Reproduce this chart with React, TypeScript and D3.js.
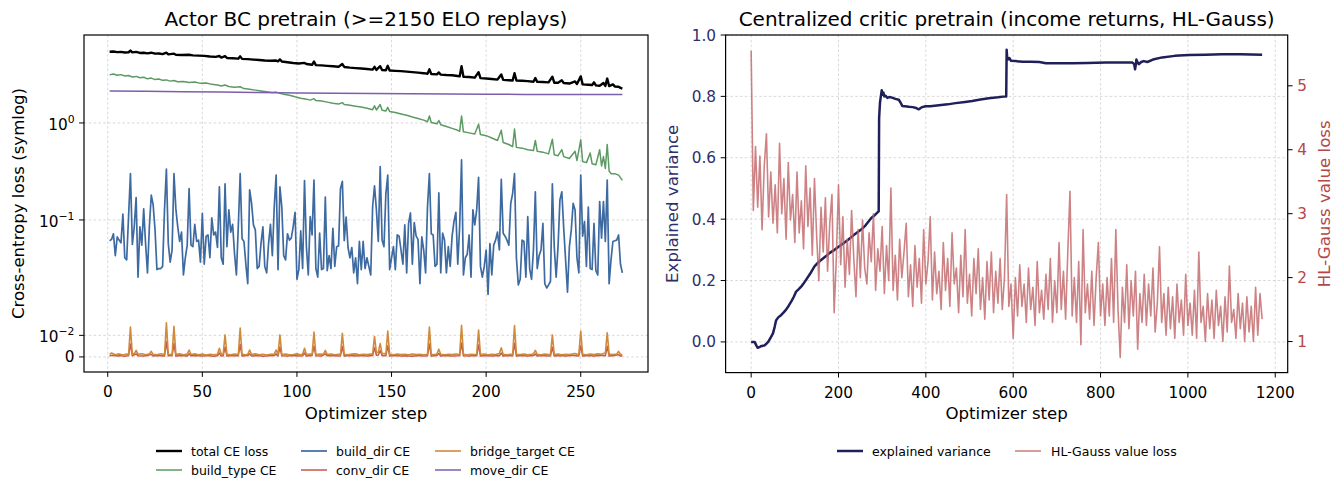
import React from 'react';
import * as d3 from 'd3';

const W = 1340;
const H = 481;
const FONT = 'DejaVu Sans, Verdana, sans-serif';

// ---------------- left panel: actor BC pretrain (symlog y) ----------------
// build_dir CE, one value per optimizer step 1..272
const buildDirCE = [
  0.061, 0.063, 0.072, 0.047, 0.067, 0.062, 0.058, 0.115, 0.046, 0.045,
  0.108, 0.30, 0.056, 0.085, 0.17, 0.037, 0.085, 0.055, 0.13, 0.057,
  0.039, 0.085, 0.18, 0.143, 0.079, 0.0405, 0.041, 0.041, 0.042, 0.127,
  0.335, 0.057, 0.044, 0.0496, 0.30, 0.13, 0.085, 0.06, 0.075, 0.038,
  0.046, 0.055, 0.21, 0.055, 0.053, 0.09, 0.06, 0.062, 0.044, 0.117,
  0.043, 0.068, 0.07, 0.046, 0.105, 0.07, 0.075, 0.052, 0.22, 0.046,
  0.043, 0.235, 0.053, 0.127, 0.075, 0.09, 0.048, 0.038, 0.085, 0.30,
  0.064, 0.06, 0.043, 0.034, 0.204, 0.15, 0.089, 0.079, 0.041, 0.042,
  0.057, 0.085, 0.042, 0.039, 0.057, 0.09, 0.047, 0.136, 0.29, 0.0405,
  0.22, 0.136, 0.047, 0.045, 0.072, 0.062, 0.065, 0.085, 0.12, 0.036,
  0.0405, 0.077, 0.041, 0.255, 0.053, 0.038, 0.108, 0.07, 0.258, 0.041,
  0.037, 0.073, 0.0405, 0.041, 0.172, 0.04, 0.047, 0.041, 0.082, 0.042,
  0.053, 0.054, 0.21, 0.25, 0.061, 0.107, 0.052, 0.046, 0.052, 0.039,
  0.046, 0.034, 0.06, 0.0405, 0.06, 0.041, 0.046, 0.042, 0.038, 0.136,
  0.225, 0.127, 0.06, 0.355, 0.062, 0.053, 0.187, 0.29, 0.0405, 0.046,
  0.053, 0.0405, 0.07, 0.068, 0.0496, 0.043, 0.089, 0.039, 0.092, 0.118,
  0.043, 0.094, 0.068, 0.063, 0.034, 0.067, 0.0496, 0.039, 0.136, 0.30,
  0.072, 0.07, 0.042, 0.043, 0.19, 0.039, 0.073, 0.062, 0.039, 0.053,
  0.042, 0.068, 0.096, 0.12, 0.043, 0.085, 0.416, 0.038, 0.046, 0.0476,
  0.07, 0.037, 0.127, 0.089, 0.127, 0.275, 0.042, 0.037, 0.042, 0.0496,
  0.029, 0.057, 0.038, 0.055, 0.062, 0.075, 0.0496, 0.262, 0.073, 0.068,
  0.062, 0.055, 0.148, 0.187, 0.30, 0.046, 0.0334, 0.036, 0.062, 0.06,
  0.037, 0.108, 0.041, 0.036, 0.0496, 0.195, 0.041, 0.047, 0.0496, 0.092,
  0.034, 0.032, 0.0334, 0.035, 0.235, 0.053, 0.037, 0.053, 0.161, 0.195,
  0.082, 0.045, 0.030, 0.053, 0.079, 0.148, 0.127, 0.046, 0.039, 0.29,
  0.068, 0.096, 0.042, 0.136, 0.041, 0.0405, 0.092, 0.04, 0.038, 0.155,
  0.065, 0.155, 0.06, 0.258, 0.034, 0.045, 0.06, 0.061, 0.062, 0.07,
  0.043, 0.039,
];

// [step, value]
const totalCE: [number, number][] = [
  [1, 5.42], [3, 5.45], [5, 5.38], [7, 5.40], [9, 5.33], [11, 5.36], [12, 5.58], [13, 5.34],
  [15, 5.40], [17, 5.27], [19, 5.30], [21, 5.22], [23, 5.30], [25, 5.18], [27, 5.20], [29, 5.12],
  [31, 5.30], [32, 5.10], [35, 5.18], [36, 5.05], [39, 5.02], [43, 5.05], [45, 4.98], [48, 4.95],
  [51, 4.92], [54, 4.85], [57, 4.80], [59, 4.90], [60, 4.72], [62, 4.88], [63, 4.68], [66, 4.65],
  [69, 4.60], [70, 4.86], [71, 4.58], [74, 4.55], [77, 4.50], [80, 4.46], [83, 4.40], [86, 4.38],
  [89, 4.40], [90, 4.32], [91, 4.52], [92, 4.30], [95, 4.22], [98, 4.15], [101, 4.10], [104, 4.16],
  [105, 4.05], [108, 3.98], [109, 4.30], [110, 3.95], [113, 3.92], [116, 3.88], [119, 3.84], [122, 3.80],
  [124, 4.05], [125, 3.78], [128, 3.72], [131, 3.68], [134, 3.64], [137, 3.60], [140, 3.55], [141, 3.79],
  [142, 3.52], [144, 3.85], [145, 3.52], [147, 3.50], [148, 3.88], [149, 3.47], [152, 3.44], [155, 3.42],
  [158, 3.38], [161, 3.34], [164, 3.30], [167, 3.26], [169, 3.22], [170, 3.57], [171, 3.20], [174, 3.17],
  [175, 3.32], [176, 3.15], [179, 3.12], [182, 3.10], [185, 3.05], [186, 3.02], [187, 3.85], [188, 3.00],
  [191, 2.98], [194, 2.93], [196, 3.34], [197, 2.90], [200, 2.87], [203, 2.84], [206, 2.80], [208, 3.16],
  [209, 2.78], [212, 2.76], [214, 2.74], [215, 3.26], [216, 2.74], [219, 2.72], [222, 2.70], [225, 2.66],
  [226, 2.90], [227, 2.65], [230, 2.64], [233, 2.62], [235, 3.00], [236, 2.60], [238, 2.60], [240, 2.75],
  [241, 2.58], [244, 2.55], [247, 2.68], [248, 2.52], [250, 3.02], [251, 2.50], [254, 2.48], [256, 2.46],
  [257, 2.62], [258, 2.44], [260, 2.42], [262, 2.58], [263, 2.41], [264, 2.87], [265, 2.40], [267, 2.50],
  [268, 2.38], [270, 2.36], [271, 2.30], [272, 2.26],
];

const buildTypeCE: [number, number][] = [
  [1, 3.13], [3, 3.20], [5, 3.10], [7, 3.15], [9, 3.05], [11, 3.08], [13, 2.98], [15, 3.02],
  [17, 2.92], [19, 2.96], [21, 2.85], [23, 2.90], [25, 2.80], [27, 2.84], [29, 2.75], [31, 2.78],
  [33, 2.70], [35, 2.74], [37, 2.66], [40, 2.68], [43, 2.62], [46, 2.64], [49, 2.56], [52, 2.58],
  [55, 2.50], [58, 2.46], [60, 2.40], [62, 2.46], [64, 2.38], [67, 2.34], [70, 2.36], [72, 2.26],
  [75, 2.22], [78, 2.18], [81, 2.14], [84, 2.10], [87, 2.06], [89, 2.08], [91, 2.02], [93, 1.98],
  [96, 1.93], [99, 1.86], [102, 1.80], [105, 1.76], [107, 1.72], [109, 1.78], [110, 1.70], [113, 1.68],
  [116, 1.64], [119, 1.60], [122, 1.57], [124, 1.62], [125, 1.55], [128, 1.52], [131, 1.49], [134, 1.46],
  [137, 1.42], [140, 1.37], [141, 1.50], [142, 1.36], [144, 1.55], [145, 1.35], [147, 1.33], [148, 1.45],
  [149, 1.31], [152, 1.28], [155, 1.24], [158, 1.20], [161, 1.15], [164, 1.11], [167, 1.07], [169, 1.03],
  [170, 1.18], [171, 1.01], [174, 0.98], [175, 1.06], [176, 0.96], [179, 0.92], [182, 0.88], [185, 0.84],
  [186, 0.82], [187, 1.18], [188, 0.81], [191, 0.79], [194, 0.77], [196, 0.97], [197, 0.76], [200, 0.74],
  [203, 0.70], [206, 0.66], [208, 0.84], [209, 0.63], [212, 0.60], [214, 0.57], [215, 0.865], [216, 0.56],
  [219, 0.55], [222, 0.53], [225, 0.52], [226, 0.66], [227, 0.51], [230, 0.50], [233, 0.48], [235, 0.68],
  [236, 0.47], [238, 0.46], [240, 0.53], [241, 0.45], [244, 0.43], [247, 0.51], [248, 0.41], [250, 0.67],
  [251, 0.40], [253, 0.39], [255, 0.49], [256, 0.38], [258, 0.37], [260, 0.53], [261, 0.36], [262, 0.45],
  [263, 0.34], [264, 0.60], [265, 0.32], [266, 0.30], [268, 0.30], [270, 0.29], [272, 0.256],
];

const moveDirCE: [number, number][] = [
  [1, 2.14], [20, 2.12], [40, 2.10], [60, 2.08], [80, 2.06], [100, 2.04], [120, 2.03], [140, 2.01],
  [160, 2.00], [180, 1.99], [200, 1.98], [220, 1.97], [240, 1.97], [260, 1.96], [272, 1.96],
];

const bridgeTargetCE: [number, number][] = [
  [1, 0.0012], [2, 0.0018], [4, 0.0010], [6, 0.0014], [8, 0.0009], [10, 0.0013], [11, 0.0010], [12, 0.0139],
  [13, 0.0011], [14, 0.0016], [15, 0.0030], [16, 0.0012], [18, 0.0015], [20, 0.0010], [22, 0.0014], [23, 0.0026],
  [24, 0.0012], [26, 0.0010], [28, 0.0015], [30, 0.0011], [31, 0.0158], [32, 0.0012], [34, 0.0010], [35, 0.0142],
  [36, 0.0012], [38, 0.0014], [40, 0.0010], [42, 0.0013], [43, 0.0032], [44, 0.0011], [46, 0.0014], [48, 0.0010],
  [50, 0.0013], [52, 0.0009], [54, 0.0012], [56, 0.0010], [58, 0.0012], [59, 0.0040], [60, 0.0011], [61, 0.0013],
  [62, 0.0102], [63, 0.0012], [65, 0.0010], [67, 0.0013], [69, 0.0011], [70, 0.0134], [71, 0.0012], [73, 0.0010],
  [74, 0.0012], [75, 0.0032], [76, 0.0011], [78, 0.0014], [80, 0.0010], [82, 0.0012], [84, 0.0009], [86, 0.0012],
  [88, 0.0013], [89, 0.0032], [90, 0.0012], [91, 0.0102], [92, 0.0011], [94, 0.0013], [96, 0.0010], [98, 0.0011],
  [100, 0.0014], [102, 0.0010], [103, 0.0012], [104, 0.0040], [105, 0.0011], [107, 0.0013], [108, 0.0010], [109, 0.0115],
  [110, 0.0011], [112, 0.0013], [114, 0.0012], [115, 0.0030], [116, 0.0011], [118, 0.0013], [120, 0.0010], [122, 0.0012],
  [123, 0.0011], [124, 0.0110], [125, 0.0012], [127, 0.0010], [129, 0.0013], [131, 0.0014], [133, 0.0010], [135, 0.0012],
  [137, 0.0011], [139, 0.0013], [140, 0.0014], [141, 0.0095], [142, 0.0020], [143, 0.0022], [144, 0.0062], [145, 0.0014],
  [146, 0.0016], [147, 0.0012], [148, 0.0120], [149, 0.0012], [151, 0.0010], [153, 0.0013], [155, 0.0011], [157, 0.0012],
  [159, 0.0010], [161, 0.0013], [163, 0.0011], [165, 0.0012], [167, 0.0010], [169, 0.0012], [170, 0.0139], [171, 0.0012],
  [173, 0.0011], [174, 0.0013], [175, 0.0036], [176, 0.0012], [178, 0.0010], [180, 0.0012], [182, 0.0011], [184, 0.0013],
  [186, 0.0011], [187, 0.0147], [188, 0.0012], [190, 0.0010], [192, 0.0012], [194, 0.0011], [195, 0.0012], [196, 0.0125],
  [197, 0.0011], [199, 0.0013], [201, 0.0010], [203, 0.0012], [205, 0.0011], [206, 0.0014], [207, 0.0016], [208, 0.0042],
  [209, 0.0012], [211, 0.0010], [213, 0.0012], [214, 0.0011], [215, 0.0145], [216, 0.0012], [218, 0.0011], [220, 0.0013],
  [222, 0.0010], [224, 0.0012], [225, 0.0014], [226, 0.0030], [227, 0.0012], [229, 0.0010], [231, 0.0013], [233, 0.0011],
  [234, 0.0012], [235, 0.0102], [236, 0.0011], [238, 0.0013], [240, 0.0010], [242, 0.0012], [244, 0.0011], [246, 0.0014],
  [247, 0.0016], [248, 0.0012], [249, 0.0013], [250, 0.0120], [251, 0.0012], [253, 0.0010], [255, 0.0013], [257, 0.0011],
  [259, 0.0014], [261, 0.0012], [262, 0.0016], [263, 0.0018], [264, 0.0112], [265, 0.0013], [267, 0.0011], [269, 0.0013],
  [270, 0.0026], [271, 0.0012], [272, 0.0011],
];

const convDirCE: [number, number][] = [
  [1, 0.0005], [3, 0.0008], [5, 0.0004], [7, 0.0006], [9, 0.0003], [11, 0.0006], [12, 0.0060], [13, 0.0005],
  [15, 0.0014], [16, 0.0005], [19, 0.0004], [21, 0.0007], [23, 0.0012], [24, 0.0004], [27, 0.0006], [30, 0.0004],
  [31, 0.0070], [32, 0.0005], [34, 0.0006], [35, 0.0062], [36, 0.0004], [39, 0.0006], [42, 0.0004], [43, 0.0014],
  [44, 0.0005], [47, 0.0007], [50, 0.0004], [53, 0.0006], [56, 0.0003], [58, 0.0005], [59, 0.0018], [60, 0.0004],
  [61, 0.0005], [62, 0.0045], [63, 0.0004], [66, 0.0006], [69, 0.0005], [70, 0.0058], [71, 0.0004], [74, 0.0006],
  [75, 0.0014], [76, 0.0004], [79, 0.0006], [82, 0.0003], [85, 0.0005], [88, 0.0006], [89, 0.0014], [90, 0.0004],
  [91, 0.0046], [92, 0.0005], [95, 0.0004], [98, 0.0006], [101, 0.0004], [103, 0.0005], [104, 0.0018], [105, 0.0004],
  [108, 0.0006], [109, 0.0050], [110, 0.0005], [113, 0.0004], [115, 0.0014], [116, 0.0005], [119, 0.0006], [122, 0.0004],
  [123, 0.0005], [124, 0.0048], [125, 0.0004], [128, 0.0006], [131, 0.0004], [134, 0.0006], [137, 0.0004], [140, 0.0006],
  [141, 0.0042], [142, 0.0008], [143, 0.0009], [144, 0.0030], [145, 0.0006], [147, 0.0005], [148, 0.0052], [149, 0.0004],
  [152, 0.0006], [155, 0.0004], [158, 0.0005], [161, 0.0003], [164, 0.0006], [167, 0.0004], [169, 0.0005], [170, 0.0060],
  [171, 0.0004], [174, 0.0006], [175, 0.0016], [176, 0.0004], [179, 0.0006], [182, 0.0004], [185, 0.0005], [186, 0.0006],
  [187, 0.0064], [188, 0.0005], [191, 0.0004], [194, 0.0006], [195, 0.0005], [196, 0.0055], [197, 0.0004], [200, 0.0006],
  [203, 0.0004], [206, 0.0006], [207, 0.0005], [208, 0.0018], [209, 0.0004], [212, 0.0006], [214, 0.0005], [215, 0.0063],
  [216, 0.0004], [219, 0.0006], [222, 0.0004], [225, 0.0006], [226, 0.0013], [227, 0.0004], [230, 0.0006], [233, 0.0004],
  [234, 0.0005], [235, 0.0045], [236, 0.0004], [239, 0.0006], [242, 0.0004], [245, 0.0006], [247, 0.0007], [248, 0.0004],
  [249, 0.0005], [250, 0.0052], [251, 0.0004], [254, 0.0006], [257, 0.0004], [260, 0.0006], [262, 0.0007], [263, 0.0005],
  [264, 0.0049], [265, 0.0004], [268, 0.0006], [270, 0.0011], [271, 0.0004], [272, 0.0005],
];

const leftXTicks = [0, 50, 100, 150, 200, 250];
const leftYTicks = [0, 0.01, 0.1, 1];

// ---------------- right panel: centralized critic ----------------
const LOSS_EVERY = 5; // one value per 5 optimizer steps, steps 0..1170
const hlGaussLoss = [
  5.55, 3.05, 4.05, 3.1, 3.9, 2.75, 3.75, 4.25, 2.95, 3.65, 2.85,
  3.45, 2.7, 4.1, 3.0, 3.55, 2.6, 3.8, 2.9, 3.3, 2.55,
  3.65, 2.7, 3.2, 2.45, 3.75, 2.8, 3.4, 2.35, 3.55, 2.65,
  1.95, 3.1, 2.4, 3.25, 2.1, 2.85, 3.3, 1.45, 2.3, 3.45,
  2.2, 2.95, 1.85, 2.6, 2.05, 3.05, 2.3, 1.7, 2.75, 2.0,
  2.9, 2.15, 1.9, 2.7, 2.25, 3.0, 1.8, 2.45, 2.1, 2.8,
  1.75, 2.5, 1.95, 3.4, 1.8, 2.35, 1.65, 2.6, 2.0, 2.4,
  2.85, 1.7, 2.2, 1.55, 2.5, 1.85, 2.3, 1.6, 2.75, 1.9,
  2.25, 2.95, 1.65, 2.4, 1.75, 2.1, 1.5, 2.55, 1.8, 2.3,
  1.55, 2.7, 1.9, 2.15, 1.45, 2.35, 1.7, 2.75, 1.6, 2.05,
  1.4, 2.3, 1.75, 2.45, 1.5, 2.0, 1.35, 2.25, 1.65, 2.4,
  1.45, 2.1, 1.6, 2.3, 1.5, 2.0, 3.3, 1.55, 1.9, 1.05,
  2.0, 1.4, 2.2, 1.55, 1.9, 1.3, 2.15, 1.5, 1.85, 1.25,
  2.25, 1.45, 1.8, 1.35, 2.05, 1.5, 2.3, 1.3, 1.95, 1.45,
  2.55, 1.5, 2.1, 1.35, 2.4, 3.35, 1.4, 2.0, 1.3, 2.25,
  0.95, 2.75, 1.45, 1.9, 1.35, 2.1, 1.25, 2.0, 2.55, 1.4,
  1.9, 1.25, 2.0, 1.4, 2.3, 1.3, 2.75, 1.5, 0.75, 1.85,
  1.3, 2.2, 1.2, 1.95, 1.4, 2.1, 0.88, 1.75, 1.3, 2.05,
  1.25, 1.9, 1.4, 2.15, 1.15, 1.6, 2.48, 1.3, 1.75, 1.1,
  1.85, 1.2, 1.7, 1.05, 1.9, 1.3, 1.65, 1.1, 2.05, 1.25,
  1.6, 1.1, 1.8, 1.05, 2.4, 1.3, 1.55, 1.0, 1.75, 1.2,
  1.65, 1.05, 1.8, 1.25, 1.55, 1.0, 1.7, 1.15, 2.18, 1.3,
  1.5, 1.05, 1.75, 1.2, 1.6, 1.0, 1.7, 1.15, 1.55, 1.0,
  1.85, 1.1, 1.75, 1.35,
];

// [step, explained variance]
const explainedVar: [number, number][] = [
  [0, 0.0], [8, 0.0], [12, -0.012], [15, -0.019], [20, -0.016], [24, -0.013], [30, -0.012], [35, -0.006],
  [39, 0.0], [45, 0.015], [50, 0.028], [54, 0.05], [57, 0.07], [62, 0.08], [69, 0.088], [75, 0.097],
  [80, 0.105], [86, 0.118], [92, 0.132], [98, 0.148], [103, 0.164], [109, 0.172], [115, 0.181], [120, 0.19],
  [126, 0.203], [135, 0.222], [145, 0.246], [153, 0.258], [161, 0.268], [170, 0.278], [180, 0.29], [191, 0.30],
  [200, 0.31], [210, 0.32], [222, 0.333], [235, 0.348], [252, 0.366], [262, 0.38], [275, 0.404], [283, 0.413],
  [290, 0.423], [292, 0.425], [293, 0.73], [295, 0.78], [297, 0.80], [299, 0.82], [301, 0.805], [303, 0.812],
  [305, 0.80], [308, 0.802], [312, 0.795], [316, 0.798], [323, 0.796], [330, 0.792], [338, 0.789], [342, 0.78],
  [346, 0.769], [352, 0.768], [361, 0.766], [370, 0.765], [378, 0.762], [384, 0.758], [390, 0.764], [399, 0.768],
  [410, 0.768], [430, 0.771], [450, 0.774], [468, 0.778], [490, 0.782], [506, 0.785], [525, 0.79], [544, 0.794],
  [565, 0.797], [582, 0.80], [584, 0.80], [585, 0.952], [586, 0.93], [588, 0.92], [591, 0.925], [595, 0.916],
  [605, 0.915], [622, 0.913], [640, 0.913], [660, 0.912], [675, 0.908], [700, 0.908], [736, 0.908], [770, 0.909],
  [812, 0.91], [850, 0.91], [873, 0.91], [877, 0.905], [879, 0.888], [881, 0.905], [882, 0.92], [885, 0.91],
  [888, 0.905], [893, 0.912], [899, 0.915], [907, 0.912], [920, 0.92], [941, 0.927], [970, 0.932], [1002, 0.935],
  [1040, 0.936], [1078, 0.937], [1120, 0.937], [1170, 0.936],
];

const rightXTicks = [0, 200, 400, 600, 800, 1000, 1200];
const evTicks = [0, 0.2, 0.4, 0.6, 0.8, 1.0];
const lossTicks = [1, 2, 3, 4, 5];

// ---------------- helpers ----------------
const LINTHRESH = 0.05;
const LINSCALE = 1 / (1 - 1 / 10);
function symlog(v: number) {
  const a = Math.abs(v);
  const r = a <= LINTHRESH ? (a / LINTHRESH) * LINSCALE : LINSCALE + Math.log10(a / LINTHRESH);
  return Math.sign(v) * r;
}

const TICK_FS = 15.3;
const LABEL_FS = 16.6;
const TITLE_FS = 20;
const LEGEND_FS = 12.5;
const TICK_LEN = 4.9;
const GRID = { stroke: '#c8c8c8', strokeWidth: 0.7, strokeDasharray: '2.6,2.2' };

const COLORS = {
  total: '#000000',
  buildType: '#5b9a62',
  buildDir: '#3e6aa2',
  convDir: '#c4574a',
  bridge: '#d08a3b',
  moveDir: '#7b5fae',
  ev: '#1f2059',
  loss: '#c06466',
  evText: '#2d2e6a',
  lossText: '#b4474a',
};

function LeftPanel() {
  const L = 84, R = 648, T = 35, B = 372;
  const x = d3.scaleLinear().domain([1 - 0.05 * 271, 272 + 0.05 * 271]).range([L, R]);
  const yT = d3.scaleLinear().domain([symlog(-0.007), symlog(8.07)]).range([B, T]);
  const y = (v: number) => yT(symlog(v));

  const stepLine = d3.line<number>().x((_, i) => x(i + 1)).y((d) => y(d));
  const pairLine = d3.line<[number, number]>().x((d) => x(d[0])).y((d) => y(d[1]));

  const series = [
    { key: 'total', label: 'total CE loss', color: COLORS.total, w: 2.4, d: pairLine(totalCE) },
    { key: 'buildType', label: 'build_type CE', color: COLORS.buildType, w: 1.5, d: pairLine(buildTypeCE) },
    { key: 'buildDir', label: 'build_dir CE', color: COLORS.buildDir, w: 1.7, d: stepLine(buildDirCE) },
    { key: 'convDir', label: 'conv_dir CE', color: COLORS.convDir, w: 1.5, d: pairLine(convDirCE) },
    { key: 'bridge', label: 'bridge_target CE', color: COLORS.bridge, w: 1.6, d: pairLine(bridgeTargetCE) },
    { key: 'moveDir', label: 'move_dir CE', color: COLORS.moveDir, w: 1.5, d: pairLine(moveDirCE) },
  ];

  const fmtY = (v: number) => {
    if (v === 0) return <tspan>0</tspan>;
    const e = Math.round(Math.log10(v));
    return (
      <>
        <tspan>10</tspan>
        <tspan dy={-7} fontSize={10.8}>{e < 0 ? '\u2212' + Math.abs(e) : String(e)}</tspan>
      </>
    );
  };

  const legendCols = [156, 301, 435];
  const legendRows = [451, 470];

  return (
    <g>
      <defs>
        <clipPath id="clipL">
          <rect x={L} y={T} width={R - L} height={B - T} />
        </clipPath>
      </defs>
      {leftXTicks.map((t) => (
        <line key={'gx' + t} x1={x(t)} x2={x(t)} y1={T} y2={B} {...GRID} />
      ))}
      {leftYTicks.map((t) => (
        <line key={'gy' + t} x1={L} x2={R} y1={y(t)} y2={y(t)} {...GRID} />
      ))}
      <g clipPath="url(#clipL)">
        {series.map((s) => (
          <path key={s.key} d={s.d || ''} fill="none" stroke={s.color} strokeWidth={s.w} strokeLinejoin="round" />
        ))}
      </g>
      <rect x={L} y={T} width={R - L} height={B - T} fill="none" stroke="#000" strokeWidth={1.2} />
      {leftXTicks.map((t) => (
        <g key={'tx' + t}>
          <line x1={x(t)} x2={x(t)} y1={B} y2={B + TICK_LEN} stroke="#000" strokeWidth={1} />
          <text x={x(t)} y={B + 25} fontSize={TICK_FS} textAnchor="middle" fill="#000">{t}</text>
        </g>
      ))}
      {leftYTicks.map((t) => (
        <g key={'ty' + t}>
          <line x1={L - TICK_LEN} x2={L} y1={y(t)} y2={y(t)} stroke="#000" strokeWidth={1} />
          <text x={L - 9.5} y={y(t) + (t === 0 ? 5.5 : 7)} fontSize={TICK_FS} textAnchor="end" fill="#000">
            {fmtY(t)}
          </text>
        </g>
      ))}
      <text x={(L + R) / 2} y={419} fontSize={LABEL_FS} textAnchor="middle">Optimizer step</text>
      <text transform={`translate(24,${(T + B) / 2}) rotate(-90)`} fontSize={LABEL_FS} textAnchor="middle">
        Cross-entropy loss (symlog)
      </text>
      <text x={(L + R) / 2} y={26} fontSize={TITLE_FS} textAnchor="middle">Actor BC pretrain (&gt;=2150 ELO replays)</text>
      {series.map((s, i) => {
        const cx = legendCols[Math.floor(i / 2)];
        const cy = legendRows[i % 2];
        return (
          <g key={'lg' + s.key}>
            <line x1={cx} x2={cx + 26} y1={cy} y2={cy} stroke={s.color} strokeWidth={s.w} />
            <text x={cx + 35} y={cy + 4.5} fontSize={LEGEND_FS}>{s.label}</text>
          </g>
        );
      })}
    </g>
  );
}

function RightPanel() {
  const L = 725.6, R = 1287.7, T = 35, B = 372.6;
  const x = d3.scaleLinear().domain([-58.5, 1228.5]).range([L, R]);
  const yEV = d3.scaleLinear().domain([-0.1, 1.0]).range([B, T]);
  const yLoss = d3.scaleLinear().domain([0.514, 5.795]).range([B, T]);

  const lossLine = d3.line<number>().x((_, i) => x(i * LOSS_EVERY)).y((d) => yLoss(d));
  const evLine = d3.line<[number, number]>().x((d) => x(d[0])).y((d) => yEV(d[1]));

  return (
    <g>
      <defs>
        <clipPath id="clipR">
          <rect x={L} y={T} width={R - L} height={B - T} />
        </clipPath>
      </defs>
      {rightXTicks.map((t) => (
        <line key={'gx' + t} x1={x(t)} x2={x(t)} y1={T} y2={B} {...GRID} />
      ))}
      {evTicks.map((t) => (
        <line key={'gy' + t} x1={L} x2={R} y1={yEV(t)} y2={yEV(t)} {...GRID} />
      ))}
      <g clipPath="url(#clipR)">
        <path d={evLine(explainedVar) || ''} fill="none" stroke={COLORS.ev} strokeWidth={2.5} strokeLinejoin="round" />
        <path d={lossLine(hlGaussLoss) || ''} fill="none" stroke={COLORS.loss} strokeWidth={1.6} strokeOpacity={0.8} strokeLinejoin="round" />
      </g>
      <rect x={L} y={T} width={R - L} height={B - T} fill="none" stroke="#000" strokeWidth={1.2} />
      {rightXTicks.map((t) => (
        <g key={'tx' + t}>
          <line x1={x(t)} x2={x(t)} y1={B} y2={B + TICK_LEN} stroke="#000" strokeWidth={1} />
          <text x={x(t)} y={B + 25} fontSize={TICK_FS} textAnchor="middle" fill="#000">{t}</text>
        </g>
      ))}
      {evTicks.map((t) => (
        <g key={'ty' + t}>
          <line x1={L - TICK_LEN} x2={L} y1={yEV(t)} y2={yEV(t)} stroke="#000" strokeWidth={1} />
          <text x={L - 9.5} y={yEV(t) + 5.5} fontSize={TICK_FS} textAnchor="end" fill={COLORS.evText}>{t.toFixed(1)}</text>
        </g>
      ))}
      {lossTicks.map((t) => (
        <g key={'tl' + t}>
          <line x1={R} x2={R + TICK_LEN} y1={yLoss(t)} y2={yLoss(t)} stroke="#000" strokeWidth={1} />
          <text x={R + 9.5} y={yLoss(t) + 5.5} fontSize={TICK_FS} textAnchor="start" fill={COLORS.lossText}>{t}</text>
        </g>
      ))}
      <text x={(L + R) / 2} y={419} fontSize={LABEL_FS} textAnchor="middle">Optimizer step</text>
      <text transform={`translate(678,${(T + B) / 2}) rotate(-90)`} fontSize={LABEL_FS} textAnchor="middle" fill={COLORS.evText}>
        Explained variance
      </text>
      <text transform={`translate(1330,${(T + B) / 2}) rotate(-90)`} fontSize={LABEL_FS} textAnchor="middle" fill={COLORS.lossText}>
        HL-Gauss value loss
      </text>
      <text x={(L + R) / 2} y={26} fontSize={TITLE_FS} textAnchor="middle">
        Centralized critic pretrain (income returns, HL-Gauss)
      </text>
      <line x1={837} x2={863} y1={451} y2={451} stroke={COLORS.ev} strokeWidth={2.5} />
      <text x={872} y={455.5} fontSize={LEGEND_FS}>explained variance</text>
      <line x1={1015} x2={1041} y1={451} y2={451} stroke={COLORS.loss} strokeWidth={1.6} strokeOpacity={0.8} />
      <text x={1051} y={455.5} fontSize={LEGEND_FS}>HL-Gauss value loss</text>
    </g>
  );
}

export default function App() {
  return (
    <svg
      width={W}
      height={H}
      viewBox={`0 0 ${W} ${H}`}
      style={{ position: 'absolute', left: 0, top: 0, background: '#fff' }}
      fontFamily={FONT}
    >
      <rect width={W} height={H} fill="#fff" />
      <LeftPanel />
      <RightPanel />
    </svg>
  );
}
